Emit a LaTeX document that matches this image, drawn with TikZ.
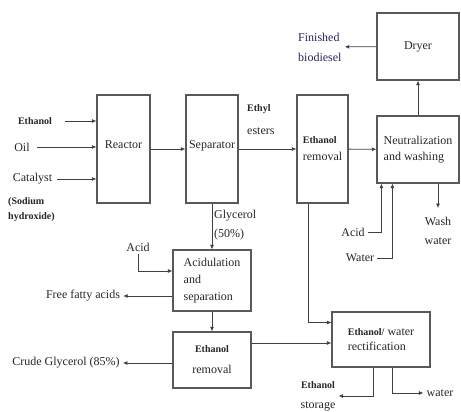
\documentclass[tikz,border=0pt]{standalone}
\usepackage{fontspec}
\setmainfont{Liberation Serif}
\usetikzlibrary{arrows.meta}
\newcommand{\bl}[1]{{\fontsize{10}{12}\selectfont\bfseries #1}}

\begin{document}
\begin{tikzpicture}[x=1pt,y=-1pt,>={Latex[length=4.5pt,width=4pt]},
  block/.style={draw=black!65,line width=1.1pt,font=\fontsize{12}{17}\selectfont,align=left,inner sep=2pt,text=black!85},
  lbl/.style={font=\fontsize{12}{14}\selectfont,align=left,inner sep=3pt,text=black!85},
  blbl/.style={font=\fontsize{10}{15}\selectfont\bfseries,align=left,inner sep=3pt,text=black!85},
  flow/.style={->,draw=black!75,line width=0.8pt}]
\useasboundingbox (0,0) rectangle (461,412);

\node[block,minimum width=53,minimum height=108] (reactor) at (123.5,149) {\raisebox{9pt}{Reactor}};
\node[block,minimum width=52,minimum height=108] (sep) at (212,149) {\raisebox{9pt}{Separator}};
\node[block,minimum width=51,minimum height=108] (etoh_1) at (322.5,149) {\bl{Ethanol}\\removal};
\node[block,minimum width=82,minimum height=67] (neut) at (418,149.5) {Neutralization\\[-1pt]and washing};
\node[block,minimum width=82,minimum height=67] (dryer) at (418,46.5) {Dryer};
\node[block,minimum width=78,minimum height=61] (acid) at (212,280.5) {Acidulation\\and\\separation};
\node[block,minimum width=78,minimum height=56,align=center] (etoh_2) at (212,360) {\bl{Ethanol}\\[4pt]removal};
\node[block,minimum width=98,minimum height=55] (rect) at (381,339.5) {\bl{Ethanol/} water\\[-2pt]rectification};

\node[blbl] (in_e) at (35,121) {Ethanol};
\node[lbl] (oil) at (22,147) {Oil};
\node[lbl] (cat) at (32.5,179) {Catalyst};
\node[blbl,anchor=west,inner sep=0pt] (naoh) at (8,210) {(Sodium\\hydroxide)};
\node[lbl,anchor=west,inner sep=0pt] (glyc) at (214,225) {Glycerol\\[5pt](50\%)};
\node[lbl,anchor=west,inner sep=0pt] (esters) at (247,120) {\bl{Ethyl}\\[9pt]esters};
\node[lbl,anchor=west,text=blue!25!black!85] (bio) at (295,47) {Finished\\[6pt]biodiesel};
\node[lbl] (acid_1) at (138,247) {Acid};
\node[lbl] (ffa) at (83,296) {Free fatty acids};
\node[lbl] (crude) at (66,363) {Crude Glycerol (85\%)};
\node[lbl] (acid_2) at (353,232) {Acid};
\node[lbl] (water_1) at (360,258) {Water};
\node[lbl,align=center] (wash) at (438,231) {Wash\\[5pt]water};
\node[lbl,align=center] (store) at (318,396) {\bl{Ethanol}\\[6pt]storage};
\node[lbl] (w_out) at (440,393) {water};

\coordinate (acid_in) at ([yshift=9.5pt]acid.west);
\coordinate (rect_a) at ([yshift=17pt]rect.west);
\coordinate (rect_b) at ([yshift=-3.5pt]rect.west);
\coordinate (neut_a) at ([xshift=5pt]neut.south west);
\coordinate (neut_w) at ([xshift=16pt]neut.south west);
\coordinate (rect_s) at ([xshift=42pt]rect.south west);
\coordinate (rect_w) at ([xshift=61pt]rect.south west);

\draw[flow,shorten <=10pt] (in_e) -- (in_e -| reactor.west);
\draw[flow,shorten <=4pt] (oil) -- (oil -| reactor.west);
\draw[flow,shorten <=2pt] (cat) -- (cat -| reactor.west);
\draw[flow] (reactor) -- (sep);
\draw[flow] (sep) -- (etoh_1);
\draw[flow] (etoh_1) -- (neut);
\draw[flow] (neut) -- (dryer);
\draw[flow] (dryer) -- (bio);
\draw[flow] (sep) -- (acid);
\draw[flow] (acid) -- (etoh_2);
\draw[flow] (acid_1) |- (acid_in);
\draw[flow] (acid.west |- ffa) -- (ffa);
\draw[flow] (etoh_2.west |- crude) -- (crude);
\draw[flow] ([xshift=-14.5pt]etoh_1.south) |- (rect_a);
\draw[flow] (etoh_2.east |- rect_b) -- (rect_b);
\draw[flow] (acid_2) -| (neut_a);
\draw[flow] (water_1) -| (neut_w);
\draw[flow,shorten >=6pt] (neut.south -| wash) -- (wash);
\draw[flow] (rect_s) |- (store);
\draw[flow] (rect_w) |- (w_out);
\end{tikzpicture}
\end{document}
